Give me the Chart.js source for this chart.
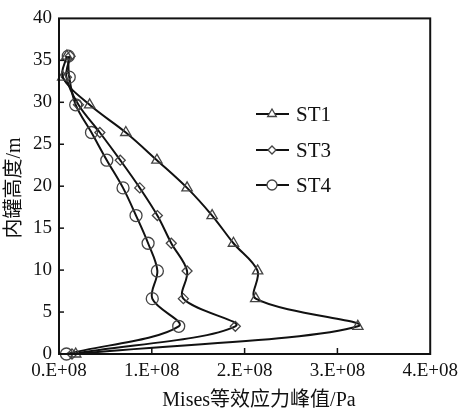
<!DOCTYPE html>
<html>
<head>
<meta charset="utf-8">
<script src="https://cdn.jsdelivr.net/npm/chart.js@4.4.1/dist/chart.umd.min.js"></script>
<style>
  html, body { margin: 0; padding: 0; background: #fff; }
  #chart { display: block; }
</style>
</head>
<body>
<canvas id="chart" width="464" height="414"></canvas>
<script>
// tank height levels (m)
const heights = [0, 3.3, 6.6, 9.9, 13.2, 16.5, 19.8, 23.1, 26.4, 29.7, 33, 35.5];
// peak Mises stress, in units of 1E+08 Pa
const st1 = [0.18, 3.22, 2.12, 2.14, 1.88, 1.65, 1.38, 1.055, 0.72, 0.33, 0.04, 0.085];
const st3 = [0.14, 1.90, 1.34, 1.38, 1.21, 1.06, 0.87, 0.66, 0.44, 0.21, 0.08, 0.12];
const st4 = [0.08, 1.29, 1.005, 1.06, 0.96, 0.83, 0.69, 0.515, 0.35, 0.18, 0.11, 0.10];
const xTicks = [0, 1, 2, 3, 4];
const yTicks = [0, 5, 10, 15, 20, 25, 30, 35, 40];

const seriesNames = ["ST1", "ST3", "ST4"];
const markers = ["triangle", "rectRot", "circle"];
const FONT = "'Liberation Serif', 'Times New Roman', serif";

function toPoints(vals) {
  return vals.map((v, i) => ({ x: v * 1e8, y: heights[i] }));
}

const datasets = [st1, st3, st4].map((vals, i) => ({
  label: seriesNames[i],
  data: toPoints(vals),
  showLine: true,
  tension: 0.35,
  borderColor: "#111",
  borderWidth: 2,
  pointStyle: markers[i],
  pointRadius: i === 1 ? 5 : 6,
  pointBorderColor: "#444",
  pointBorderWidth: 1.3,
  pointBackgroundColor: "rgba(255,255,255,0)",
  clip: false
}));

const frame = {
  id: "frame",
  afterDraw(chart) {
    const { ctx, chartArea: a, scales } = chart;
    ctx.save();
    ctx.strokeStyle = "#111";
    ctx.lineWidth = 2;
    ctx.strokeRect(a.left, a.top, a.right - a.left, a.bottom - a.top);
    // inward ticks
    ctx.lineWidth = 1.5;
    xTicks.slice(1, -1).forEach(t => {
      const px = scales.x.getPixelForValue(t * 1e8);
      ctx.beginPath();
      ctx.moveTo(px, a.bottom);
      ctx.lineTo(px, a.bottom - 6);
      ctx.stroke();
    });
    yTicks.slice(1, -1).forEach(t => {
      const py = scales.y.getPixelForValue(t);
      ctx.beginPath();
      ctx.moveTo(a.left, py);
      ctx.lineTo(a.left + 5, py);
      ctx.stroke();
    });

    // legend
    const ly = [114, 150, 185];
    seriesNames.forEach((name, i) => {
      ctx.strokeStyle = "#111";
      ctx.lineWidth = 2;
      ctx.beginPath();
      ctx.moveTo(256, ly[i]);
      ctx.lineTo(289, ly[i]);
      ctx.stroke();
      ctx.strokeStyle = "#444";
      ctx.lineWidth = 1.3;
      ctx.fillStyle = "#fff";
      Chart.helpers.drawPoint(ctx, { pointStyle: markers[i], radius: i === 1 ? 4 : 5, borderWidth: 1.3 }, 272, ly[i]);
      ctx.fillStyle = "#111";
      ctx.font = "21px " + FONT;
      ctx.textBaseline = "middle";
      ctx.textAlign = "left";
      ctx.fillText(name, 296, ly[i] + 1);
    });

    // axis titles
    ctx.fillStyle = "#111";
    ctx.font = "20px " + FONT + ", 'Noto Sans CJK SC'";
    ctx.textAlign = "center";
    ctx.textBaseline = "middle";
    ctx.fillText("Mises等效应力峰值/Pa", 259, 401);
    ctx.translate(15, 188);
    ctx.rotate(-Math.PI / 2);
    ctx.fillText("内罐高度/m", 0, 0);
    ctx.restore();
  }
};

new Chart(document.getElementById("chart").getContext("2d"), {
  type: "scatter",
  data: { datasets: datasets },
  options: {
    responsive: false,
    animation: false,
    layout: { padding: { left: 0, right: 27, top: 12, bottom: 0 } },
    plugins: {
      legend: { display: false },
      tooltip: { enabled: false }
    },
    scales: {
      x: {
        type: "linear",
        min: 0,
        max: 4e8,
        afterFit: s => { s.height = 60; },
        afterBuildTicks: s => { s.ticks = xTicks.map(v => ({ value: v * 1e8 })); },
        ticks: {
          color: "#111",
          padding: 6,
          maxRotation: 0,
          font: { family: FONT, size: 19 },
          callback: v => (v / 1e8) + ".E+08"
        },
        grid: { display: false, drawTicks: false },
        border: { display: false }
      },
      y: {
        min: 0,
        max: 40,
        afterFit: s => { s.width = 59; },
        afterBuildTicks: s => { s.ticks = yTicks.map(v => ({ value: v })); },
        ticks: {
          color: "#111",
          padding: 7,
          font: { family: FONT, size: 19 }
        },
        grid: { display: false, drawTicks: false },
        border: { display: false }
      }
    }
  },
  plugins: [frame]
});
</script>
</body>
</html>
